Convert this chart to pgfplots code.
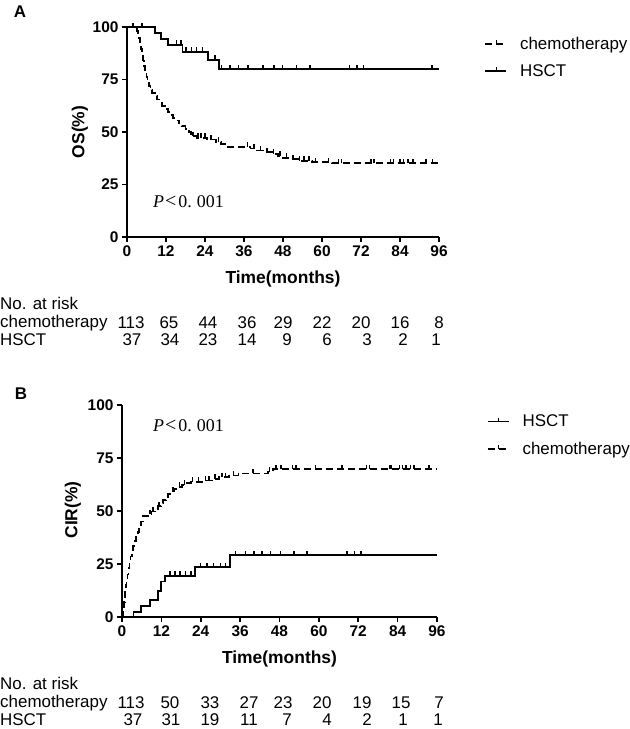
\documentclass[border=0pt]{standalone}
\usepackage{pgfplots}
\pgfplotsset{compat=1.18}
\usepackage{fontspec}
\setmainfont{Liberation Sans}
\newfontfamily\serif{Liberation Serif}

% censoring tick: short stroke going up from the curve
\pgfdeclareplotmark{cens}{%
  \pgfpathmoveto{\pgfqpoint{0pt}{0pt}}%
  \pgfpathlineto{\pgfqpoint{0pt}{4.5pt}}%
  \pgfusepathqstroke}

\pgfplotsset{
  km/.style={
    scale only axis,
    xmin=0, xmax=96, ymin=0, ymax=100,
    enlargelimits=false,
    axis x line*=bottom, axis y line*=left,
    axis line style={-, line width=1.9bp},
    tick style={line width=1.7bp, black},
    tick align=outside, major tick length=5bp,
    xtick={0,12,...,96}, ytick={0,25,50,75,100},
    /pgf/number format/assume math mode=true,
    ticklabel style={font=\bfseries\fontsize{15.5}{15.5}\selectfont},
    label style={font=\bfseries\fontsize{17.5}{17.5}\selectfont},
    clip=false,
    legend cell align=left,
    legend style={draw=none, fill=none, anchor=north west,
      font=\fontsize{17}{17}\selectfont, row sep=10bp},
    legend image code/.code={
      \draw[##1] (0bp,0bp) -- (21bp,0bp);
      \draw[solid,line width=1.4bp] (11bp,0bp) -- (11bp,4bp);
      \path (32bp,0bp);},
  },
  chemo/.style={const plot, dash pattern=on 7bp off 4bp, line width=1.8bp, black},
  hsct/.style={const plot, solid, line width=1.8bp, black},
  censm/.style={only marks, mark=cens, mark options={solid, line width=1.5bp}, black, forget plot},
}

\begin{document}
\begin{tikzpicture}
\useasboundingbox (0,0) rectangle (630bp,729bp);

% ---------------- panel A : OS ----------------
\begin{axis}[km,
  at={(127bp,492bp)}, anchor=south west,
  width=312bp, height=210bp,
  xlabel={Time(months)}, ylabel={OS(\%)},
  xlabel style={at={(axis description cs:0.5,-0.2)}, anchor=center},
  ylabel style={at={(axis description cs:-0.151,0.5)}, anchor=center},
  legend style={at={(axis description cs:1.135,0.973)}},
]
\addplot[chemo] coordinates {
(0,100)(2.5,99.1)(3,98.2)(3.3,96.5)(3.6,94.7)(4,92)(4.3,89.5)(4.6,87)(5,84)
(5.3,81.5)(5.6,79)(6,76)(6.3,74)(6.7,72)(7.2,70)(7.8,68.5)(8.5,67)(9.2,65.5)
(10,64)(10.8,62.5)(11.6,61)(12.5,59.5)(13.3,58)(14.2,56.7)(15,55.5)(16,54)
(17,52.7)(18,51.4)(19,50)(19.8,49)(20.6,48)(21.5,47.3)(24.5,46.4)(27.5,45.3)
(29,44.2)(30.3,43)(38,42.1)(40,41.2)(42,40.4)(44.5,39.6)(46.5,38.7)(48,37.8)
(50,37)(52.5,36.3)(57,35.7)(63,35.1)(96,35.1)};
\addlegendentry{chemotherapy}
\addplot[hsct] coordinates {
(0,100)(8.6,97.3)(10.4,94.4)(12.7,91.6)(17.1,88.2)(25,84.3)(28.3,80)(96,80)};
\addlegendentry{HSCT}
\addplot[censm] coordinates {
(20.3,48)(21.8,47.3)(22.8,47.3)(24,47.3)(25.8,46.4)(28.2,45.3)(37,43)(39,42.1)
(41,41.2)(43,40.4)(45,39.6)(47,38.7)(49,37.8)(51,37)(53,36.3)(54.5,36.3)
(56,36.3)(58,35.7)(62,35.7)(65,35.1)(66,35.1)(75,35.1)(76,35.1)(81,35.1)(82,35.1)
(84,35.1)(85,35.1)(86.5,35.1)(88,35.1)(92,35.1)(94,35.1)};
\addplot[censm] coordinates {
(1.9,100)(4.6,100)(15.3,91.6)(16.6,91.6)(18.2,88.2)(19.9,88.2)(21.4,88.2)
(23.3,88.2)(27.1,84.3)(29.1,80)(31.7,80)(34.3,80)(37.3,80)(41.9,80)(45.2,80)
(47.9,80)(52.2,80)(56.3,80)(68.4,80)(70.7,80)(72.7,80)(93.8,80)};
\end{axis}

% ---------------- panel B : CIR ----------------
\begin{axis}[km,
  at={(122bp,112bp)}, anchor=south west,
  width=315bp, height=212bp,
  xlabel={Time(months)}, ylabel={CIR(\%)},
  xlabel style={at={(axis description cs:0.5,-0.198)}, anchor=center},
  ylabel style={at={(axis description cs:-0.156,0.505)}, anchor=center},
  legend style={at={(axis description cs:1.148,0.973)}},
]
\addplot[hsct] coordinates {
(0,0)(3.5,2.4)(5.9,5)(8.6,8)(10.9,12.3)(12,16.7)(13.2,19.4)(22.3,23.5)(33,29.2)(96,29.2)};
\addlegendentry{HSCT}
\addplot[chemo] coordinates {
(0,0)(0.2,2)(0.4,4.5)(0.6,7)(0.8,10)(1,12.5)(1.2,15)(1.4,17.5)(1.7,20)(2,23)
(2.3,26)(2.6,28.5)(3,31)(3.4,33.5)(3.8,36)(4.3,38)(4.8,40)(5.3,42.5)(5.8,45)
(6.3,47.5)(8,48.5)(9,49.8)(10,51)(11,52.3)(11.8,53.5)(12.5,55)(13.3,56.5)
(14,58)(15,59.2)(16,60.4)(17,61.4)(18.2,62.3)(19.5,63.2)(21,63.8)(24.5,64.4)
(27.5,65.2)(29.5,66)(32.5,66.7)(35.5,67.7)(44.5,68.6)(46,69.8)(96,69.8)};
\addlegendentry{chemotherapy}
\addplot[censm] coordinates {
(14.7,19.4)(16.2,19.4)(17.7,19.4)(19.3,19.4)(21.1,19.4)(23.9,23.5)(25.9,23.5)
(27.9,23.5)(30,23.5)(31.5,23.5)(34.6,29.2)(37.6,29.2)(40.2,29.2)(42.7,29.2)
(45.2,29.2)(48.3,29.2)(52.4,29.2)(56.4,29.2)(68.6,29.2)(70.9,29.2)(72.9,29.2)};
\addplot[censm] coordinates {
(8.5,48.5)(9.5,49.8)(11.3,52.3)(13.8,56.5)(15.5,59.2)(17.5,61.4)(19,62.3)
(21.5,63.8)(23.3,63.8)(25.5,64.4)(26.5,64.4)(28.3,65.2)(30.5,66)(31.5,66)
(34,66.7)(40,67.7)(45,68.6)(47,69.8)(48.5,69.8)(52,69.8)(53,69.8)(59,69.8)
(67,69.8)(74.5,69.8)(75.5,69.8)(81.5,69.8)(82,69.8)(84.5,69.8)(85.5,69.8)
(86.5,69.8)(88,69.8)(89,69.8)(93.5,69.8)};
\end{axis}

% panel letters and p values
\node[font=\bfseries\fontsize{17}{17}\selectfont] at (20bp,717bp) {A};
\node[font=\bfseries\fontsize{17}{17}\selectfont] at (21bp,335bp) {B};
\node[anchor=west, inner sep=0pt, font=\serif\fontsize{18}{18}\selectfont]
  at (153bp,527bp) {\textit{P}\hspace{1bp}{\fontsize{20}{20}\selectfont<}\hspace{2bp}0.\hspace{5bp}001};
\node[anchor=west, inner sep=0pt, font=\serif\fontsize{18}{18}\selectfont]
  at (153bp,303bp) {\textit{P}\hspace{1bp}{\fontsize{20}{20}\selectfont<}\hspace{2bp}0.\hspace{5bp}001};

% numbers at risk
\begin{scope}[every node/.style={font=\fontsize{17}{17}\selectfont, inner sep=0pt}]
\node[anchor=west] at (0bp,426bp) {No. at risk};
\node[anchor=west] at (0bp,406bp) {chemotherapy};
\node[anchor=west] at (0bp,389bp) {HSCT};
\foreach \x/\n in {131/113,169/65,208/44,247/36,283/29,322/22,361/20,400/16,439/8}
  \node at (\x bp,406bp) {\n};
\foreach \x/\n in {132/37,170/34,208/23,247/14,287/9,327/6,367/3,403/2,436/1}
  \node at (\x bp,389bp) {\n};
\node[anchor=west] at (0bp,46bp) {No. at risk};
\node[anchor=west] at (0bp,26bp) {chemotherapy};
\node[anchor=west] at (0bp,9bp) {HSCT};
\foreach \x/\n in {131/113,170/50,210/33,249/27,283/23,322/20,362/19,401/15,439/7}
  \node at (\x bp,26bp) {\n};
\foreach \x/\n in {133/37,171/31,210/19,249/11,287/7,327/4,367/2,403/1,438/1}
  \node at (\x bp,9bp) {\n};
\end{scope}
\end{tikzpicture}
\end{document}
